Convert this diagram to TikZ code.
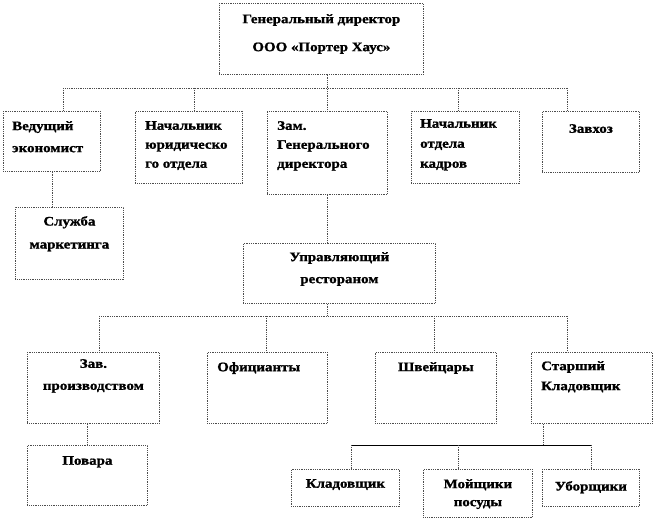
\documentclass[tikz,border=0pt]{standalone}
\usepackage{fontspec}
\setmainfont{Liberation Serif}[FakeStretch=1.15, BoldFeatures={FakeBold=1.2}]
\tikzset{
  box/.style={draw=gray!60!black, densely dotted, line width=0.8pt, anchor=north west, inner sep=0pt},
  link/.style={draw=gray!60!black, densely dotted, line width=0.8pt},
  solidlink/.style={draw=black, line width=0.6pt},
  lbl/.style={font=\fontsize{13}{20}\selectfont\bfseries, inner sep=0pt, align=left, anchor=north west},
  clbl/.style={font=\fontsize{13}{20}\selectfont\bfseries, inner sep=0pt, align=center, anchor=north},
}
\begin{document}
\begin{tikzpicture}[x=1pt, y=-1pt]
      \useasboundingbox (0,0) rectangle (654,521);

      % boxes: name / left / top / width / height
      \foreach \name/\x/\y/\w/\h in {gd/219/3/204/71, ved/3/111/97/60, yur/135/111/107/72,
          zam/267/111/120/83, kadr/411/111/108/72, zavhoz/542/111/97/61,
          mark/15/207/108/72, upr/243/243/192/60,
          zav/27/352/132/71, ofic/207/352/120/71, shv/375/352/121/71, star/531/352/121/71,
          povar/27/445/120/60, klad/291/469/108/37, moi/423/469/109/48, ubor/542/469/97/37} {
        \node[box, minimum width=\w pt, minimum height=\h pt] (\name) at (\x,\y) {};
      }

      % labels
      \node[clbl, font=\fontsize{13}{28}\selectfont\bfseries] (tgd) at ([yshift=-11pt]gd.north) {Генеральный директор\\ООО «Портер Хаус»};
      \node[lbl, font=\fontsize{13}{22}\selectfont\bfseries] (tved) at ([xshift=9pt,yshift=-10pt]ved.north west) {Ведущий\\экономист};
      \node[lbl, font=\fontsize{13}{19}\selectfont\bfseries] (tyur) at ([xshift=10pt,yshift=-10pt]yur.north west) {Начальник\\юридическо\\го отдела};
      \node[lbl, font=\fontsize{13}{19}\selectfont\bfseries] (tzam) at ([xshift=10pt,yshift=-10pt]zam.north west) {Зам.\\Генерального\\директора};
      \node[lbl] (tkadr) at ([xshift=9pt,yshift=-8pt]kadr.north west) {Начальник\\отдела\\кадров};
      \node[clbl] (tzavhoz) at ([yshift=-13pt]zavhoz.north) {Завхоз};
      \node[clbl, font=\fontsize{13}{23}\selectfont\bfseries] (tmark) at ([yshift=-9pt]mark.north) {Служба\\маркетинга};
      \node[clbl, font=\fontsize{13}{22}\selectfont\bfseries] (tupr) at ([yshift=-9pt]upr.north) {Управляющий\\рестораном};
      \node[clbl, font=\fontsize{13}{22}\selectfont\bfseries] (tzav) at ([yshift=-7pt]zav.north) {Зав.\\производством};
      \node[lbl] (tofic) at ([xshift=10pt,yshift=-10pt]ofic.north west) {Официанты};
      \node[clbl] (tshv) at ([yshift=-10pt]shv.north) {Швейцары};
      \node[lbl] (tstar) at ([xshift=10pt,yshift=-9pt]star.north west) {Старший\\Кладовщик};
      \node[clbl] (tpovar) at ([yshift=-11pt]povar.north) {Повара};
      \node[clbl] (tklad) at ([yshift=-10pt]klad.north) {Кладовщик};
      \node[clbl, font=\fontsize{13}{18}\selectfont\bfseries] (tmoi) at ([yshift=-10pt]moi.north) {Мойщики\\посуды};
      \node[clbl] (tubor) at ([yshift=-12pt]ubor.north) {Уборщики};

      % bus lines
      \coordinate (bus1) at (0,88);
      \coordinate (bus2) at (0,316);
      \coordinate (bus3) at (0,445);

      % top level
      \draw[link] (gd.south -| zam.north) -- (zam.north);
      \draw[link] ([xshift=11.5pt]ved.north |- bus1) -- ([xshift=-23.5pt]zavhoz.north |- bus1);
      \foreach \n/\dx in {ved/11.5, yur/5.5, kadr/-7, zavhoz/-23.5} {
        \draw[link] ([xshift=\dx pt]\n.north |- bus1) -- ([xshift=\dx pt]\n.north);
      }
      \draw[link] (ved.south) -- (ved.south |- mark.north);
      \draw[link] (zam.south) -- (zam.south |- upr.north);

      % restaurant level
      \draw[link] ([xshift=-12pt]upr.south) -- ([xshift=-12pt]upr.south |- bus2);
      \draw[link] ([xshift=6pt]zav.north |- bus2) -- ([xshift=-24.5pt]star.north |- bus2);
      \foreach \n/\dx in {zav/6, ofic/-1, shv/-1.5, star/-24.5} {
        \draw[link] ([xshift=\dx pt]\n.north |- bus2) -- ([xshift=\dx pt]\n.north);
      }
      \draw[link] (povar.north |- zav.south) -- (povar.north);

      % storeroom
      \draw[link] ([xshift=-48.5pt]star.south) -- ([xshift=-48.5pt]star.south |- bus3);
      \draw[solidlink] ([xshift=6pt]klad.north |- bus3) -- (ubor.north |- bus3);
      \foreach \n/\dx in {klad/6, moi/-19.5, ubor/0} {
        \draw[link] ([xshift=\dx pt]\n.north |- bus3) -- ([xshift=\dx pt]\n.north);
      }
\end{tikzpicture}
\end{document}
